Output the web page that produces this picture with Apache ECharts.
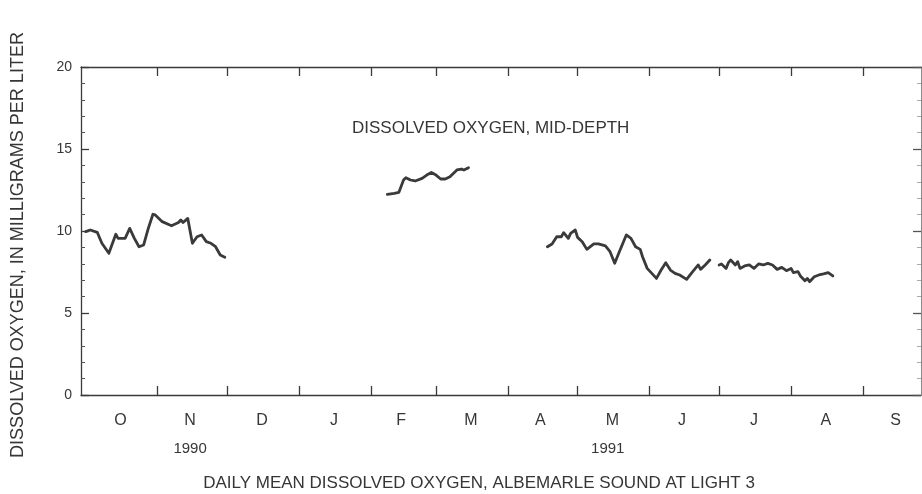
<!DOCTYPE html>
<html>
<head>
<meta charset="utf-8">
<title>Daily mean dissolved oxygen, Albemarle Sound at Light 3</title>
<script src="https://cdn.jsdelivr.net/npm/echarts@6/dist/echarts.min.js"></script>
<style>
  html, body { margin: 0; padding: 0; background: #ffffff; }
  #chart { width: 922px; height: 494px; }
</style>
</head>
<body>
<div id="chart"></div>
<script>
// Daily mean dissolved oxygen (mg/L), mid-depth, water years 1990-91.
// Record has gaps, so each continuous stretch is its own series.
const seg1Dates = ['1990-10-01','1990-10-03','1990-10-06','1990-10-08','1990-10-11','1990-10-14','1990-10-15',
  '1990-10-18','1990-10-20','1990-10-22','1990-10-24','1990-10-26','1990-10-28','1990-10-30','1990-10-31',
  '1990-11-03','1990-11-07','1990-11-10','1990-11-11','1990-11-12','1990-11-14','1990-11-16','1990-11-18',
  '1990-11-20','1990-11-22','1990-11-24','1990-11-26','1990-11-28','1990-11-30'];
const seg1Values = [9.96,10.06,9.92,9.25,8.64,9.80,9.55,
  9.55,10.16,9.55,9.04,9.15,10.16,11.02,10.98,
  10.57,10.32,10.52,10.67,10.52,10.77,9.25,9.65,
  9.76,9.35,9.25,9.04,8.54,8.40];

const seg2Dates = ['1991-02-08','1991-02-11','1991-02-13','1991-02-15','1991-02-16','1991-02-18','1991-02-20',
  '1991-02-23','1991-02-25','1991-02-27','1991-03-01','1991-03-03','1991-03-05','1991-03-07','1991-03-10',
  '1991-03-12','1991-03-13','1991-03-15'];
const seg2Values = [12.24,12.30,12.36,13.11,13.25,13.11,13.05,
  13.21,13.41,13.57,13.41,13.17,13.17,13.31,13.72,
  13.78,13.72,13.86];

const seg3Dates = ['1991-04-18','1991-04-20','1991-04-22','1991-04-24','1991-04-25','1991-04-27','1991-04-28',
  '1991-04-30','1991-05-01','1991-05-03','1991-05-05','1991-05-08','1991-05-10','1991-05-13','1991-05-15',
  '1991-05-17','1991-05-19','1991-05-22','1991-05-24','1991-05-26','1991-05-28','1991-05-29','1991-05-31',
  '1991-06-04','1991-06-06','1991-06-08','1991-06-10','1991-06-12','1991-06-14','1991-06-17','1991-06-19',
  '1991-06-22','1991-06-23','1991-06-25','1991-06-27'];
const seg3Values = [9.04,9.21,9.65,9.65,9.90,9.55,9.86,
  10.06,9.61,9.35,8.88,9.21,9.21,9.09,8.74,
  8.03,8.74,9.76,9.55,9.04,8.88,8.43,7.72,
  7.11,7.62,8.07,7.62,7.42,7.32,7.05,7.42,
  7.93,7.66,7.93,8.23];

const seg4Dates = ['1991-07-01','1991-07-02','1991-07-04','1991-07-05','1991-07-06','1991-07-08','1991-07-09',
  '1991-07-10','1991-07-12','1991-07-14','1991-07-16','1991-07-18','1991-07-20','1991-07-22','1991-07-24',
  '1991-07-26','1991-07-28','1991-07-30','1991-08-01','1991-08-02','1991-08-04','1991-08-05','1991-08-07',
  '1991-08-08','1991-08-09','1991-08-11','1991-08-13','1991-08-15','1991-08-17','1991-08-19'];
const seg4Values = [7.93,7.99,7.72,8.07,8.23,7.93,8.13,
  7.72,7.87,7.93,7.72,7.99,7.93,8.03,7.93,
  7.66,7.78,7.58,7.72,7.46,7.52,7.26,6.97,
  7.11,6.91,7.21,7.32,7.38,7.46,7.26];

// Month boundaries that carry tick marks on the top and bottom edges
const monthStarts = ['1990-11-01','1990-12-01','1991-01-01','1991-02-01','1991-03-01','1991-04-01',
  '1991-05-01','1991-06-01','1991-07-01','1991-08-01','1991-09-01'];
// Month initials, set at mid-month under the axis
const monthLabels = ['O','N','D','J','F','M','A','M','J','J','A','S'];
const monthMidDates = ['1990-10-16','1990-11-15','1990-12-16','1991-01-16','1991-02-14','1991-03-16',
  '1991-04-15','1991-05-16','1991-06-15','1991-07-16','1991-08-16','1991-09-15'];
const yearLabels = ['1990','1991'];
const yearDates = ['1990-11-15','1991-05-14'];
const yTicks = [0, 5, 10, 15, 20];

const xMin = '1990-09-29';
const xMax = '1991-09-26';

const ink = '#363636';
const fontFamily = 'Liberation Sans, Arial, Helvetica, sans-serif';

// Dates are placed on a numeric (millisecond) axis so tick and label
// positions can be listed explicitly.
const toTime = s => Date.UTC(+s.slice(0, 4), +s.slice(5, 7) - 1, +s.slice(8, 10));
const monthStartTimes = monthStarts.map(toTime);
const monthMidTimes = monthMidDates.map(toTime);
const yearTimes = yearDates.map(toTime);

function pairs(dates, values) {
  return dates.map((d, i) => [toTime(d), values[i]]);
}

function lineSeries(dates, values) {
  return {
    type: 'line',
    xAxisIndex: 0,
    yAxisIndex: 0,
    data: pairs(dates, values),
    showSymbol: false,
    symbol: 'none',
    smooth: false,
    lineStyle: { color: '#3a3a3a', width: 2.8, join: 'round', cap: 'round' },
    silent: true,
    animation: false
  };
}

function lookupLabel(times, texts) {
  return v => {
    const i = times.findIndex(t => Math.abs(t - v) < 36e5);
    return i >= 0 ? texts[i] : '';
  };
}

const frame = { color: '#3a3a3a', width: 1.3 };
const baseX = {
  type: 'value', min: toTime(xMin), max: toTime(xMax), scale: true,
  splitLine: { show: false }
};

const chart = echarts.init(document.getElementById('chart'), null, { renderer: 'canvas' });

chart.setOption({
  animation: false,
  backgroundColor: '#ffffff',
  grid: { left: 81, right: 1, top: 67, bottom: 99, containLabel: false },
  xAxis: [
    Object.assign({}, baseX, {
      position: 'bottom',
      axisLine: { show: true, onZero: false, lineStyle: frame },
      axisTick: { show: true, inside: true, length: 9, customValues: monthStartTimes, lineStyle: frame },
      axisLabel: {
        show: true, customValues: monthMidTimes, margin: 18,
        formatter: lookupLabel(monthMidTimes, monthLabels),
        color: ink, fontSize: 16, fontFamily: fontFamily
      }
    }),
    Object.assign({}, baseX, {
      position: 'top',
      axisLine: { show: true, onZero: false, lineStyle: frame },
      axisTick: { show: true, inside: true, length: 9, customValues: monthStartTimes, lineStyle: frame },
      axisLabel: { show: false }
    }),
    Object.assign({}, baseX, {
      position: 'bottom',
      axisLine: { show: false, onZero: false },
      axisTick: { show: false },
      axisLabel: {
        show: true, customValues: yearTimes, margin: 46,
        formatter: lookupLabel(yearTimes, yearLabels),
        color: ink, fontSize: 15, fontFamily: fontFamily
      }
    })
  ],
  yAxis: [
    {
      type: 'value', position: 'left', min: yTicks[0], max: yTicks[yTicks.length - 1], interval: 5,
      axisLine: { show: true, lineStyle: frame },
      axisTick: { show: true, inside: true, length: 8, lineStyle: frame },
      minorTick: { show: true, splitNumber: 5, length: 4, lineStyle: { color: '#555555', width: 1 } },
      axisLabel: { color: ink, fontSize: 14, fontFamily: fontFamily, margin: 9 },
      splitLine: { show: false }
    },
    {
      type: 'value', position: 'right', min: yTicks[0], max: yTicks[yTicks.length - 1], interval: 5,
      axisLine: { show: true, lineStyle: { color: '#8a8a8a', width: 1 } },
      axisTick: { show: true, inside: true, length: 8, lineStyle: { color: '#555555', width: 1.3 } },
      minorTick: { show: true, splitNumber: 5, length: 4, lineStyle: { color: '#aaaaaa', width: 1 } },
      axisLabel: { show: false },
      splitLine: { show: false }
    }
  ],
  series: [
    lineSeries(seg1Dates, seg1Values),
    lineSeries(seg2Dates, seg2Values),
    lineSeries(seg3Dates, seg3Values),
    lineSeries(seg4Dates, seg4Values)
  ],
  graphic: [
    {
      type: 'text', left: 352, top: 120, silent: true,
      style: { text: 'DISSOLVED OXYGEN, MID-DEPTH', fill: ink, font: '17px ' + fontFamily }
    },
    {
      type: 'text', x: 18, y: 245, rotation: Math.PI / 2, silent: true,
      style: {
        text: 'DISSOLVED OXYGEN, IN MILLIGRAMS PER LITER', fill: ink,
        font: '18px ' + fontFamily, align: 'center', verticalAlign: 'middle'
      }
    },
    {
      type: 'text', x: 479, y: 483, silent: true,
      style: {
        text: 'DAILY MEAN DISSOLVED OXYGEN, ALBEMARLE SOUND AT LIGHT 3', fill: ink,
        font: '17px ' + fontFamily, align: 'center', verticalAlign: 'middle'
      }
    }
  ]
});
</script>
</body>
</html>
